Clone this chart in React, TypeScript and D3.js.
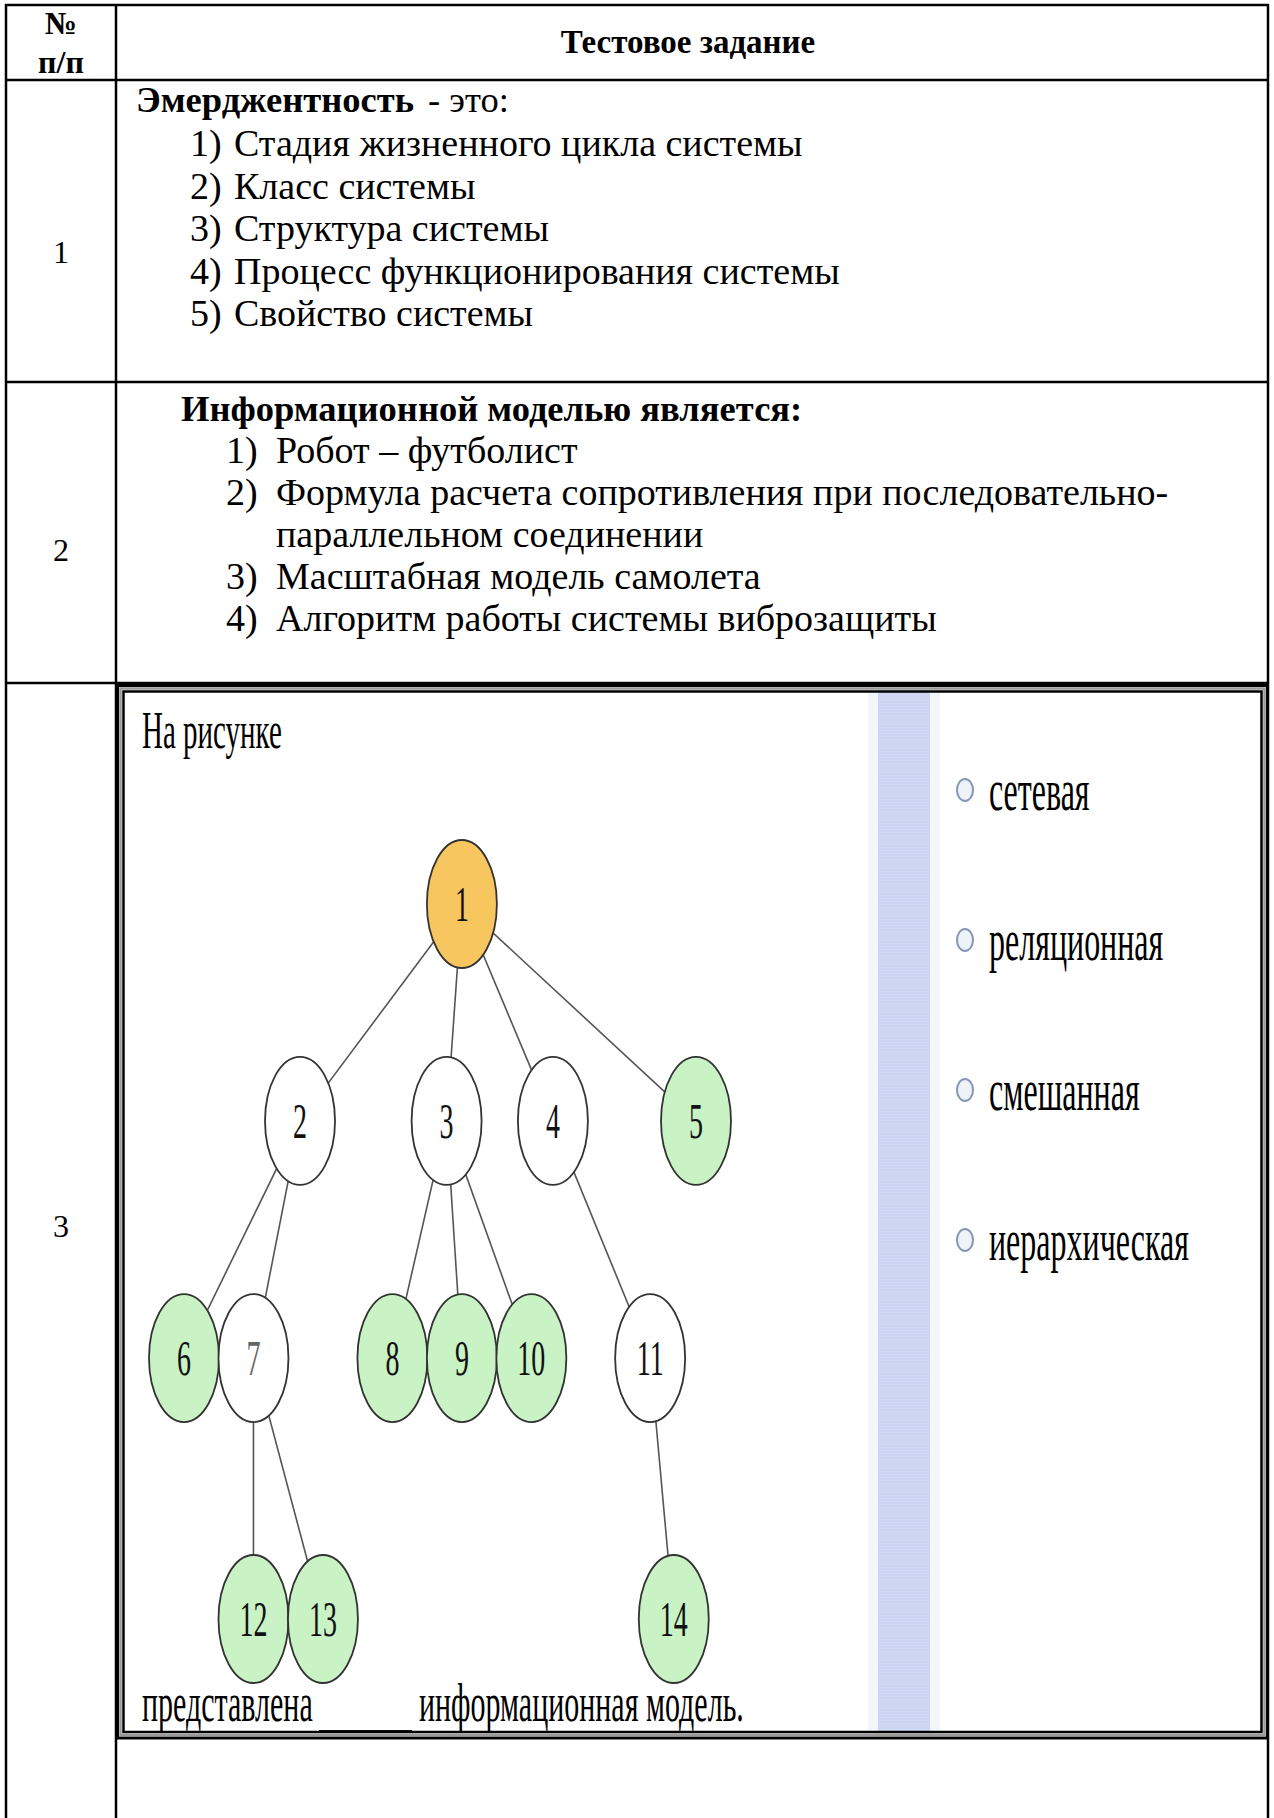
import React from 'react';
import * as d3 from 'd3';

// table text
const headerNum = ['№', 'п/п'];
const headerTask = 'Тестовое задание';
const rowNumbers = ['1', '2', '3'];

const q1Term = 'Эмерджентность';
const q1Rest = '- это:';
const q1Options = [
  'Стадия жизненного цикла системы',
  'Класс системы',
  'Структура системы',
  'Процесс функционирования системы',
  'Свойство системы',
];

const q2Title = 'Информационной моделью является:';
const q2Options = [
  ['Робот – футболист'],
  ['Формула расчета сопротивления при последовательно-', 'параллельном соединении'],
  ['Масштабная модель самолета'],
  ['Алгоритм работы системы виброзащиты'],
];

// tree picture of question 3
const nodeIds = ['1', '2', '3', '4', '5', '6', '7', '8', '9', '10', '11', '12', '13', '14'];
const nodeParent = [null, '1', '1', '1', '1', '2', '2', '3', '3', '3', '4', '7', '7', '11'];
const nodeCol = [4, 1.67, 3.78, 5.31, 7.37, 0, 1, 3, 4, 5, 6.71, 1, 2, 7.05];
const nodeRow = [0, 0.91, 0.91, 0.91, 0.91, 1.905, 1.905, 1.905, 1.905, 1.905, 1.905, 3, 3, 3];
const nodeKind = ['root', 'inner', 'inner', 'inner', 'leaf', 'leaf', 'inner', 'leaf', 'leaf', 'leaf', 'inner', 'leaf', 'leaf', 'leaf'];

const pictureTop = 'На рисунке';
const pictureBottom = ['представлена', 'информационная модель.'];
const answerOptions = ['сетевая', 'реляционная', 'смешанная', 'иерархическая'];

const W = 1274;
const H = 1818;
const serif = '"Liberation Serif", "Times New Roman", serif';

const kindFill: Record<string, string> = {
  root: '#f8c65e',
  inner: '#ffffff',
  leaf: '#c9f2c5',
};

const App: React.FC = () => {
  // table grid
  const colX = [6, 116, 1268];
  const rowY = [5, 80, 382, 683];
  const frameBottom = 1738;

  const x = d3.scaleLinear().domain([0, 7.37]).range([184, 696]);
  const y = d3.scaleLinear().domain([0, 3]).range([904, 1619]);
  const rx = 35;
  const ry = 64;
  const sy = 1.8; // the picture is stretched vertically

  const nodes = nodeIds.map((id, i) => ({
    id,
    parent: nodeParent[i],
    cx: x(nodeCol[i]),
    cy: y(nodeRow[i]),
    kind: nodeKind[i],
  }));
  const byId = new Map(nodes.map((n) => [n.id, n]));
  const links = nodes
    .filter((n) => n.parent)
    .map((n) => ({ source: byId.get(n.parent as string)!, target: n }));

  const q1Line = d3.scaleLinear().domain([1, 2]).range([156, 198.5]);
  const q2Line = d3.scaleLinear().domain([0, 1]).range([421, 463]);
  const optY = d3.scalePoint<string>().domain(answerOptions).range([790, 1240]);

  let q2Index = 1;
  const q2Lines: { num: string | null; text: string; line: number }[] = [];
  q2Options.forEach((opt, i) => {
    opt.forEach((t, j) => {
      q2Lines.push({ num: j === 0 ? `${i + 1})` : null, text: t, line: q2Index });
      q2Index += 1;
    });
  });

  return (
    <svg
      width={W}
      height={H}
      style={{ position: 'absolute', left: 0, top: 0, background: '#fff' }}
      fontFamily={serif}
    >
      <rect width={W} height={H} fill="#fff" />

      {/* header */}
      {headerNum.map((t, i) => (
        <text key={t} x={61} y={34 + i * 39} textAnchor="middle" fontSize={32} fontWeight="bold">
          {t}
        </text>
      ))}
      <text x={688} y={53} textAnchor="middle" fontSize={33} fontWeight="bold">
        {headerTask}
      </text>

      {/* row numbers */}
      {rowNumbers.map((t, i) => (
        <text key={t} x={61} y={[263, 561, 1237][i]} textAnchor="middle" fontSize={32}>
          {t}
        </text>
      ))}

      {/* question 1 */}
      <text x={136} y={112} fontSize={36.5}>
        <tspan fontWeight="bold">{q1Term}</tspan>
        <tspan dx={14}>{q1Rest}</tspan>
      </text>
      {q1Options.map((t, i) => (
        <g key={t}>
          <text x={190} y={q1Line(i + 1)} fontSize={38}>{`${i + 1})`}</text>
          <text x={234} y={q1Line(i + 1)} fontSize={38}>{t}</text>
        </g>
      ))}

      {/* question 2 */}
      <text x={181} y={q2Line(0)} fontSize={36.5} fontWeight="bold">
        {q2Title}
      </text>
      {q2Lines.map((l) => (
        <g key={l.text}>
          {l.num && (
            <text x={226} y={q2Line(l.line)} fontSize={38}>
              {l.num}
            </text>
          )}
          <text x={276} y={q2Line(l.line)} fontSize={38}>
            {l.text}
          </text>
        </g>
      ))}

      {/* question 3 picture */}
      <g>
        <rect x={868} y={690} width={72} height={frameBottom - 695} fill="#f4f6fc" />
        <rect x={878} y={690} width={52} height={frameBottom - 695} fill="#d1d9f3" />
        {d3.range(690, frameBottom - 5, 3).map((yy) => (
          <line key={yy} x1={878} x2={930} y1={yy} y2={yy} stroke="#c6cfee" strokeWidth={1} />
        ))}

        <g transform={`translate(142,748) scale(1,${sy})`}>
          <text fontSize={29}>{pictureTop}</text>
        </g>

        {links.map((l) => (
          <line
            key={l.target.id}
            x1={l.source.cx}
            y1={l.source.cy}
            x2={l.target.cx}
            y2={l.target.cy}
            stroke="#555"
            strokeWidth={1.6}
          />
        ))}
        {nodes.map((n) => (
          <g key={n.id}>
            <ellipse cx={n.cx} cy={n.cy} rx={rx} ry={ry} fill={kindFill[n.kind]} stroke="#333" strokeWidth={1.8} />
            <g transform={`translate(${n.cx},${n.cy}) scale(1,${sy})`}>
              <text
                textAnchor="middle"
                dominantBaseline="central"
                fontSize={28}
                fill={n.id === '7' ? '#666' : '#111'}
              >
                {n.id}
              </text>
            </g>
          </g>
        ))}

        {answerOptions.map((t) => (
          <g key={t}>
            <ellipse cx={965} cy={optY(t)} rx={8} ry={11} fill="#eef2f9" stroke="#8696b6" strokeWidth={2} />
            <g transform={`translate(989,${optY(t)}) scale(1,1.85)`}>
              <text fontSize={32} dominantBaseline="central">
                {t}
              </text>
            </g>
          </g>
        ))}

        <g transform={`translate(142,1721) scale(1,${sy})`}>
          <text fontSize={30}>{pictureBottom[0]}</text>
        </g>
        <line x1={319} x2={412} y1={1731} y2={1731} stroke="#111" strokeWidth={2} />
        <g transform={`translate(419,1721) scale(1,${sy})`}>
          <text fontSize={30}>{pictureBottom[1]}</text>
        </g>

        {/* double frame of the picture */}
        <rect x={117.5} y={685.5} width={1150} height={frameBottom - 685.5} fill="none" stroke="#000" strokeWidth={3} />
        <rect x={120.5} y={688.5} width={1144} height={frameBottom - 691.5} fill="none" stroke="#9a9a9a" strokeWidth={2.5} />
        <rect x={123.5} y={691.5} width={1138} height={frameBottom - 697.5} fill="none" stroke="#000" strokeWidth={2.5} />
      </g>

      {/* table grid */}
      {rowY.map((yy) => (
        <line key={yy} x1={colX[0] - 1} x2={colX[2] + 1} y1={yy} y2={yy} stroke="#000" strokeWidth={2.5} />
      ))}
      {colX.map((xx) => (
        <line key={xx} x1={xx} x2={xx} y1={rowY[0] - 1} y2={H} stroke="#000" strokeWidth={2.5} />
      ))}
    </svg>
  );
};

export default App;
